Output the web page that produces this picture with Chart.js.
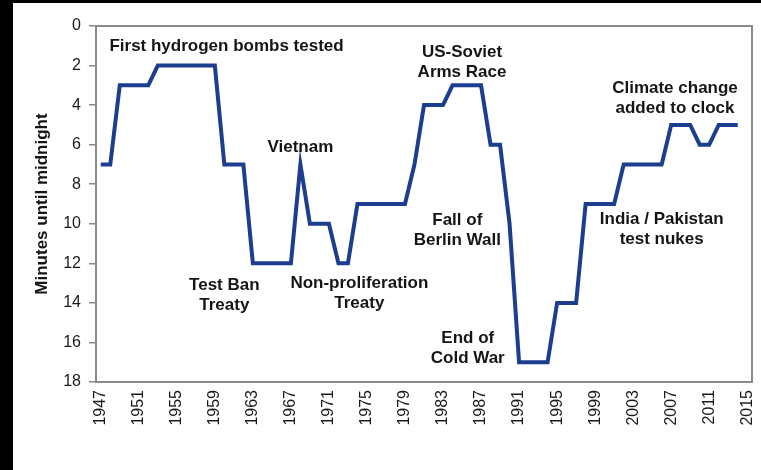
<!DOCTYPE html>
<html><head><meta charset="utf-8">
<script src="https://cdn.jsdelivr.net/npm/chart.js@4/dist/chart.umd.min.js"></script>
<style>
html,body{margin:0;padding:0;background:#000;width:761px;height:470px;overflow:hidden}
#wrap{position:absolute;left:13px;top:3px;width:748px;height:467px;background:#fff}
</style></head><body>
<div id="wrap"><canvas id="c"></canvas></div>
<script>
const years = [1947,1948,1949,1950,1951,1952,1953,1954,1955,1956,1957,1958,1959,1960,1961,1962,1963,1964,1965,1966,1967,1968,1969,1970,1971,1972,1973,1974,1975,1976,1977,1978,1979,1980,1981,1982,1983,1984,1985,1986,1987,1988,1989,1990,1991,1992,1993,1994,1995,1996,1997,1998,1999,2000,2001,2002,2003,2004,2005,2006,2007,2008,2009,2010,2011,2012,2013,2014,2015];
const minutesToMidnight = [7,7,3,3,3,3,2,2,2,2,2,2,2,7,7,7,12,12,12,12,12,7,10,10,10,12,12,9,9,9,9,9,9,7,4,4,4,3,3,3,3,6,6,10,17,17,17,17,14,14,14,9,9,9,9,7,7,7,7,7,5,5,5,6,6,5,5,5,null];
const labeledYears = [1947,1951,1955,1959,1963,1967,1971,1975,1979,1983,1987,1991,1995,1999,2003,2007,2011,2015];
const yTickValues = [0,2,4,6,8,10,12,14,16,18];
// annotation texts, anchored in data units (year, minutes)
const annotationTexts = [
  ["First hydrogen bombs tested"],
  ["Vietnam"],
  ["Test Ban","Treaty"],
  ["Non-proliferation","Treaty"],
  ["US-Soviet","Arms Race"],
  ["Climate change","added to clock"],
  ["Fall of","Berlin Wall"],
  ["India / Pakistan","test nukes"],
  ["End of","Cold War"]
];
const annotationYears = [1960.23,1968.0,1960.0,1974.2,1985.0,2007.4,1984.5,2006.0,1985.6];
const annotationMinutes = [1.01,6.12,13.09,12.99,1.31,3.13,9.81,9.76,15.77];

const FONT = "'Liberation Sans', Arial, sans-serif";

const annotationPlugin = {
  id: 'notes',
  afterDatasetsDraw(chart) {
    const ctx = chart.ctx, xs = chart.scales.x, ys = chart.scales.y;
    ctx.save();
    ctx.fillStyle = '#151515';
    ctx.font = 'bold 17px ' + FONT;
    ctx.textAlign = 'center';
    ctx.textBaseline = 'middle';
    annotationTexts.forEach((lines, i) => {
      const px = xs.getPixelForValue(annotationYears[i] - years[0]);
      const py = ys.getPixelForValue(annotationMinutes[i]);
      lines.forEach((t, j) => ctx.fillText(t, px, py + j * 20));
    });
    ctx.restore();
  }
};
const framePlugin = {
  id: 'frame',
  beforeDatasetsDraw(chart) {
    const {left, right, top, bottom} = chart.chartArea;
    const ctx = chart.ctx;
    ctx.save();
    ctx.strokeStyle = '#8a8a8a';
    ctx.lineWidth = 2;
    ctx.strokeRect(left, top, right - left, bottom - top);
    ctx.restore();
  }
};

new Chart(document.getElementById('c'), {
  type: 'line',
  data: {
    labels: years.map(String),
    datasets: [{
      data: minutesToMidnight,
      borderColor: '#1d3d8f',
      borderWidth: 4,
      pointRadius: 0,
      tension: 0,
      fill: false
    }]
  },
  options: {
    responsive: true,
    maintainAspectRatio: false,
    animation: false,
    layout: { padding: { top: 23, right: 9, left: 0, bottom: 0 } },
    plugins: { legend: { display: false }, tooltip: { enabled: false } },
    scales: {
      x: {
        type: 'category',
        offset: true,
        grid: { display: false, drawTicks: false },
        border: { display: false },
        ticks: {
          autoSkip: false,
          minRotation: 90, maxRotation: 90,
          padding: 8,
          color: '#1a1a1a',
          font: { family: FONT, size: 16 },
          callback(v, i) { const y = years[i]; return labeledYears.includes(y) ? String(y) : ''; }
        },
        afterFit(s) { s.height = 88; s.paddingLeft = 0; s.paddingRight = 0; }
      },
      y: {
        reverse: true,
        min: 0, max: 18,
        afterBuildTicks(s) { s.ticks = yTickValues.map(v => ({ value: v })); },
        grid: { drawOnChartArea: false, drawTicks: true, tickLength: 7, color: '#8a8a8a', lineWidth: 1.5 },
        border: { display: false },
        ticks: { padding: 8, color: '#1a1a1a', font: { family: FONT, size: 16 } },
        title: { display: true, text: 'Minutes until midnight', color: '#151515', font: { family: FONT, size: 17, weight: 'bold' }, padding: { top: 19, bottom: 0 } },
        afterFit(s) { s.width = 83; }
      }
    }
  },
  plugins: [framePlugin, annotationPlugin]
});
</script>
</body></html>
